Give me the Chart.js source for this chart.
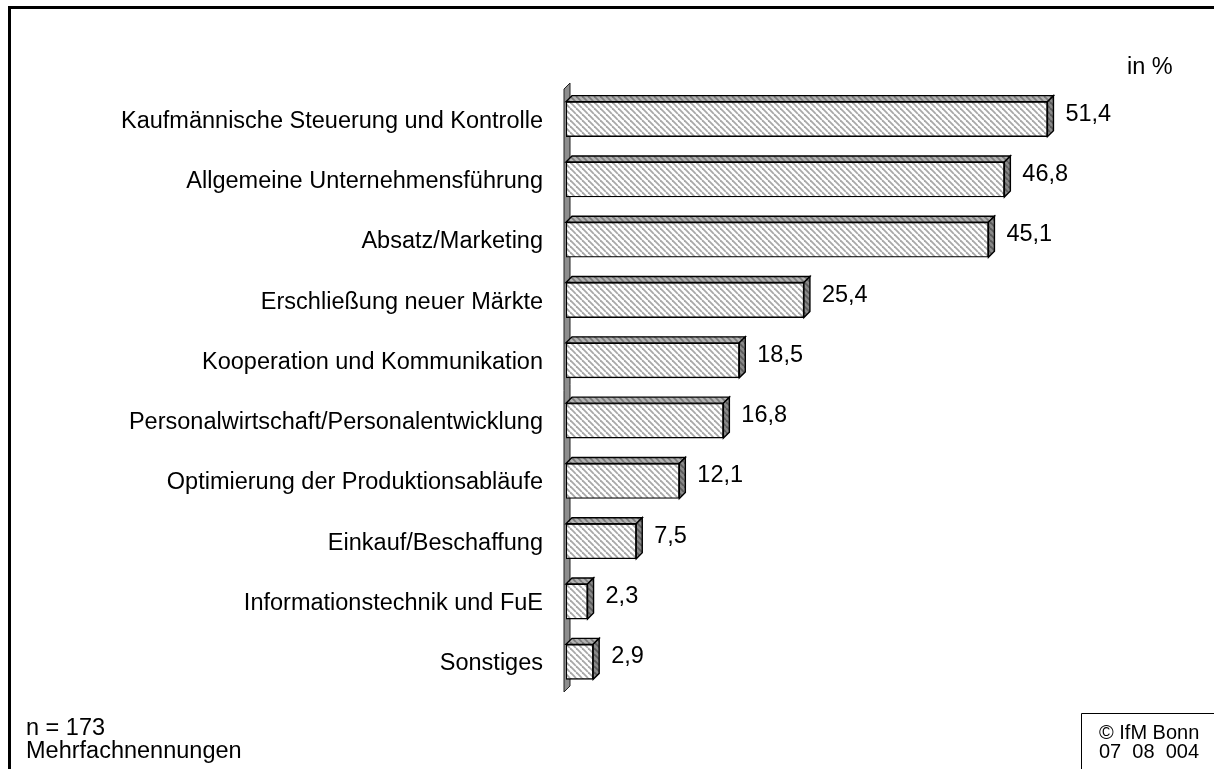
<!DOCTYPE html>
<html>
<head>
<meta charset="utf-8">
<script src="https://cdn.jsdelivr.net/npm/chart.js@4/dist/chart.umd.min.js"></script>
<style>
  html, body { margin: 0; padding: 0; background: #fff; }
  #wrap { position: relative; width: 1214px; height: 769px; }
</style>
</head>
<body>
<div id="wrap"><canvas id="chart" width="1214" height="769"></canvas></div>
<script>
// Daten
const categories = [
    'Kaufmännische Steuerung und Kontrolle',
    'Allgemeine Unternehmensführung',
    'Absatz/Marketing',
    'Erschließung neuer Märkte',
    'Kooperation und Kommunikation',
    'Personalwirtschaft/Personalentwicklung',
    'Optimierung der Produktionsabläufe',
    'Einkauf/Beschaffung',
    'Informationstechnik und FuE',
    'Sonstiges'
];
const values = [51.4, 46.8, 45.1, 25.4, 18.5, 16.8, 12.1, 7.5, 2.3, 2.9];

const FONT = "'Liberation Sans', Arial, sans-serif";
const FONT_SIZE = 23.5;
const DEPTH = 6;   // Tiefe des 3D-Effekts

// Schraffur-Muster erzeugen
function makeHatch(bg, line) {
    const s = 6;
    const c = document.createElement('canvas');
    c.width = s; c.height = s;
    const g = c.getContext('2d');
    g.fillStyle = bg;
    g.fillRect(0, 0, s, s);
    g.strokeStyle = line;
    g.lineWidth = 1.8;
    for (let k = -1; k <= 1; k++) {
        g.beginPath();
        g.moveTo(k * s, 0);
        g.lineTo(k * s + s, s);
        g.stroke();
    }
    return g.createPattern(c, 'repeat');
}

const ctx = document.getElementById('chart').getContext('2d');
const frontHatch = makeHatch('#ffffff', '#a8a8a8');
const topHatch = makeHatch('#b4b4b4', '#7a7a7a');
const sideHatch = makeHatch('#8a8a8a', '#5a5a5a');

// Rahmen, Texte und 3D-Wand
const decoPlugin = {
    id: 'deco',
    beforeDatasetsDraw(chart) {
        const c = chart.ctx;
        const area = chart.chartArea;
        const x0 = chart.scales.x.getPixelForValue(0);
        c.save();
        // Wand (Achse)
        c.beginPath();
        c.moveTo(x0 - 2, area.bottom);
        c.lineTo(x0 - 2, area.top);
        c.lineTo(x0 + 4, area.top - DEPTH);
        c.lineTo(x0 + 4, area.bottom - DEPTH);
        c.closePath();
        c.fillStyle = '#8e8e8e';
        c.fill();
        c.strokeStyle = '#222';
        c.lineWidth = 1;
        c.stroke();
        c.restore();
    },
    afterDatasetsDraw(chart) {
        const c = chart.ctx;
        const meta = chart.getDatasetMeta(0);
        c.save();
        meta.data.forEach((bar, i) => {
            const half = bar.height / 2;
            const top = bar.y - half;
            const bottom = bar.y + half;
            const left = bar.base;
            const right = bar.x;
            c.lineWidth = 1.4;
            c.strokeStyle = '#000';
            // Oberseite
            c.beginPath();
            c.moveTo(left, top);
            c.lineTo(left + DEPTH, top - DEPTH);
            c.lineTo(right + DEPTH, top - DEPTH);
            c.lineTo(right, top);
            c.closePath();
            c.fillStyle = topHatch;
            c.fill();
            c.stroke();
            // Seitenfläche
            c.beginPath();
            c.moveTo(right, top);
            c.lineTo(right + DEPTH, top - DEPTH);
            c.lineTo(right + DEPTH, bottom - DEPTH);
            c.lineTo(right, bottom);
            c.closePath();
            c.fillStyle = sideHatch;
            c.fill();
            c.stroke();
            // Wertbeschriftung
            c.fillStyle = '#000';
            c.font = FONT_SIZE + 'px ' + FONT;
            c.textAlign = 'left';
            c.textBaseline = 'middle';
            c.fillText(values[i].toFixed(1).replace('.', ','), right + 18, bar.y - 5);
        });
        c.restore();
    },
    afterDraw(chart) {
        const c = chart.ctx;
        c.save();
        // Rahmen oben und links
        c.fillStyle = '#000';
        c.fillRect(8, 6, 1214 - 8, 3);
        c.fillRect(8, 6, 3, 769 - 6);
        // Texte
        c.font = FONT_SIZE + 'px ' + FONT;
        c.textBaseline = 'middle';
        c.textAlign = 'left';
        c.fillText('in %', 1127, 68);
        c.fillText('n = 173', 26, 729);
        c.fillText('Mehrfachnennungen', 26, 752);
        // Kasten unten rechts
        c.lineWidth = 1;
        c.strokeStyle = '#000';
        c.beginPath();
        c.moveTo(1081.5, 769);
        c.lineTo(1081.5, 713.5);
        c.lineTo(1214, 713.5);
        c.stroke();
        c.font = '20px ' + FONT;
        c.fillText('© IfM Bonn', 1099, 733);
        c.fillText('07  08  004', 1099, 752);
        c.restore();
    }
};

new Chart(ctx, {
    type: 'bar',
    data: {
        labels: categories,
        datasets: [{
            data: values,
            backgroundColor: frontHatch,
            borderColor: '#000',
            borderWidth: 1.4,
            borderSkipped: false,
            barThickness: 35
        }]
    },
    options: {
        indexAxis: 'y',
        responsive: false,
        animation: false,
        events: [],
        layout: {
            padding: { top: 89, bottom: 77, left: 0, right: 86 }
        },
        scales: {
            x: {
                display: false,
                min: 0,
                max: 60
            },
            y: {
                afterFit: (scale) => { scale.width = 566; },
                grid: { display: false, drawTicks: false },
                border: { display: false },
                ticks: {
                    padding: 23,
                    labelOffset: 2,
                    color: '#000',
                    font: { size: FONT_SIZE, family: FONT }
                }
            }
        },
        plugins: {
            legend: { display: false },
            tooltip: { enabled: false }
        }
    },
    plugins: [decoPlugin]
});
</script>
</body>
</html>
